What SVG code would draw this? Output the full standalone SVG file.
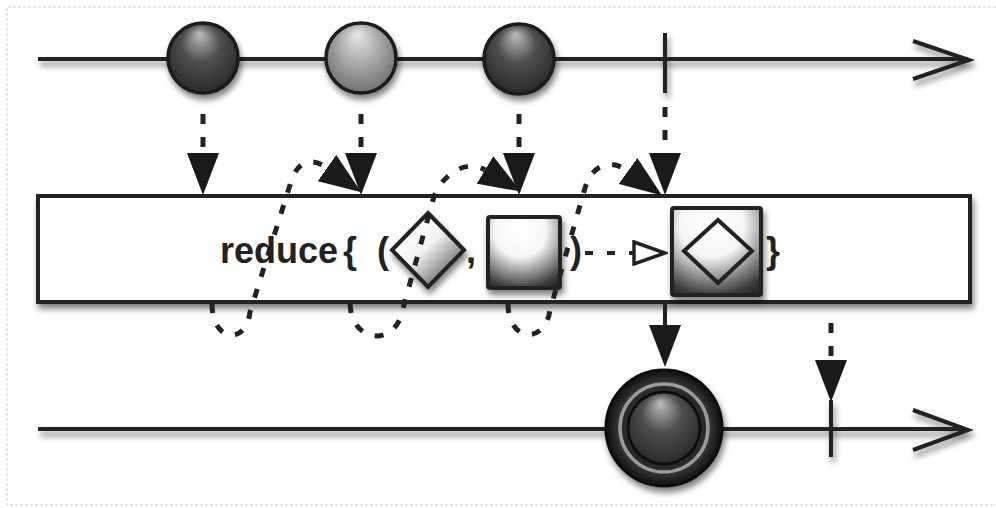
<svg xmlns="http://www.w3.org/2000/svg" width="996" height="508" viewBox="0 0 996 508">
<style>
.ln{stroke:#222;stroke-width:4;fill:none}
.dot{stroke:#222;stroke-width:5;fill:none;stroke-dasharray:10 13}
.loop{stroke:#222;stroke-width:5;fill:none;stroke-dasharray:9 13}
.txt{font-family:"Liberation Sans",Arial,sans-serif;font-weight:bold;font-size:36px;fill:#222}
.edge{stroke:#1a1a1a;stroke-width:3.5}
</style>
<defs>
<filter id="sh" x="-20%" y="-20%" width="140%" height="160%">
<feGaussianBlur in="SourceAlpha" stdDeviation="3"/>
<feOffset dx="2" dy="5" result="b"/>
<feComponentTransfer><feFuncA type="linear" slope="0.5"/></feComponentTransfer>
<feMerge><feMergeNode/><feMergeNode in="SourceGraphic"/></feMerge>
</filter>
<radialGradient id="gDark" cx="0.5" cy="0.45" r="0.6" fx="0.45" fy="0.15">
<stop offset="0" stop-color="#bdbdbd"/><stop offset="0.45" stop-color="#505050"/><stop offset="1" stop-color="#252525"/>
</radialGradient>
<radialGradient id="gLight" cx="0.5" cy="0.45" r="0.6" fx="0.45" fy="0.15">
<stop offset="0" stop-color="#e8e8e8"/><stop offset="0.5" stop-color="#a8a8a8"/><stop offset="1" stop-color="#6a6a6a"/>
</radialGradient>
<radialGradient id="gOuter" cx="0.5" cy="0.5" r="0.5">
<stop offset="0" stop-color="#444"/><stop offset="0.8" stop-color="#333"/><stop offset="1" stop-color="#111"/>
</radialGradient>
<radialGradient id="gBox" cx="0.45" cy="0.2" r="0.9">
<stop offset="0" stop-color="#fff"/><stop offset="0.4" stop-color="#f6f6f6"/><stop offset="0.9" stop-color="#3a3a3a"/><stop offset="1" stop-color="#2a2a2a"/>
</radialGradient>
<linearGradient id="gDia" x1="0.2" y1="0.2" x2="0.85" y2="0.9">
<stop offset="0" stop-color="#fff"/><stop offset="0.4" stop-color="#f2f2f2"/><stop offset="1" stop-color="#5a5a5a"/>
</linearGradient>
<marker id="tri" markerUnits="userSpaceOnUse" viewBox="0 0 42 32" markerWidth="42" markerHeight="32" refX="0" refY="16" orient="auto">
<path d="M0,0 L42,16 L0,32 z" fill="#1a1a1a"/>
</marker>
<marker id="htri" markerUnits="userSpaceOnUse" viewBox="-2 -2 36 26" markerWidth="36" markerHeight="26" refX="0" refY="11" orient="auto">
<path d="M0,0 L31,11 L0,22 z" fill="#fff" stroke="#222" stroke-width="3.5" stroke-linejoin="miter"/>
</marker>
</defs>
<rect width="996" height="508" fill="#fff"/>
<path d="M996,7 H7 V505 H996" fill="none" stroke="#ccc" stroke-width="1" stroke-dasharray="3 2"/>

<g id="source-line" filter="url(#sh)">
<path class="ln" d="M38,59 H968"/>
<path class="ln" d="M913,41 L969,60 L913,79" stroke-linejoin="miter"/>
<path class="ln" d="M665,33 V93"/>
</g>
<g id="marble-1" filter="url(#sh)"><circle cx="203" cy="58" r="35" fill="url(#gDark)" class="edge"/></g>
<g id="marble-2" filter="url(#sh)"><circle cx="361" cy="58" r="35" fill="url(#gLight)" class="edge"/></g>
<g id="marble-3" filter="url(#sh)"><circle cx="519" cy="59" r="35" fill="url(#gDark)" class="edge"/></g>

<g id="result-line" filter="url(#sh)">
<path class="ln" d="M38,429 H966"/>
<path class="ln" d="M913,410 L968,430 L913,450" stroke-linejoin="miter"/>
<path class="ln" d="M831,400 V457"/>
</g>

<g id="reduce-box">
<rect x="38" y="196" width="932" height="106" fill="#fff" stroke="#222" stroke-width="4" filter="url(#sh)"/>
<text class="txt" x="220" y="263" textLength="118" lengthAdjust="spacingAndGlyphs">reduce</text>
<text class="txt" x="343" y="263">{</text>
<text class="txt" x="377" y="263">(</text>
<g filter="url(#sh)"><polygon points="428,213 464,250 428,287 392,250" fill="url(#gDia)" stroke="#222" stroke-width="4" stroke-linejoin="miter"/></g>
<text class="txt" x="466" y="263">,</text>
<g filter="url(#sh)"><rect x="488" y="217" width="72" height="71" rx="2" fill="url(#gBox)" stroke="#222" stroke-width="4"/></g>
<text class="txt" x="570" y="263">)</text>
<g filter="url(#sh)"><rect x="672" y="208" width="89" height="87" rx="2" fill="url(#gBox)" stroke="#222" stroke-width="4"/></g>
<polygon points="718,220 752,251 718,283 684,251" fill="none" stroke="#222" stroke-width="4" stroke-linejoin="miter"/>
<text class="txt" x="766" y="263">}</text>
</g>

<g id="result-marble" filter="url(#sh)">
<circle cx="664" cy="428" r="58" fill="url(#gOuter)" stroke="#111" stroke-width="3"/>
<circle cx="664" cy="428" r="44" fill="#2c2c2c" stroke="#9a9a9a" stroke-width="3.5"/>
<circle cx="664" cy="428" r="36" fill="url(#gDark)" stroke="#111" stroke-width="3"/>
</g>

<g id="connectors">
<path class="dot" d="M203,114 V153" marker-end="url(#tri)"/>
<path class="dot" d="M361,114 V153" marker-end="url(#tri)"/>
<path class="dot" d="M519,114 V153" marker-end="url(#tri)"/>
<path class="dot" d="M665,107 V153" stroke-dasharray="10 14" marker-end="url(#tri)"/>
<path class="loop" d="M212,304 C212,342 246,346 250,312 L290,185 C296,162 310,156 327,168" marker-end="url(#tri)"/>
<path class="loop" d="M350,304 C352,344 395,346 402,312 L433,200 C440,176 465,158 485,170" marker-end="url(#tri)"/>
<path class="loop" d="M508,304 C508,342 545,345 550,310 L585,188 C592,165 610,158 628,171" marker-end="url(#tri)"/>
<path d="M585,253 H634" stroke="#222" stroke-width="4" stroke-dasharray="8 14" marker-end="url(#htri)"/>
<path class="ln" d="M665,302 V325" marker-end="url(#tri)"/>
<path class="dot" d="M831,323 V360" stroke-dasharray="10 14" marker-end="url(#tri)"/>
</g>
</svg>
